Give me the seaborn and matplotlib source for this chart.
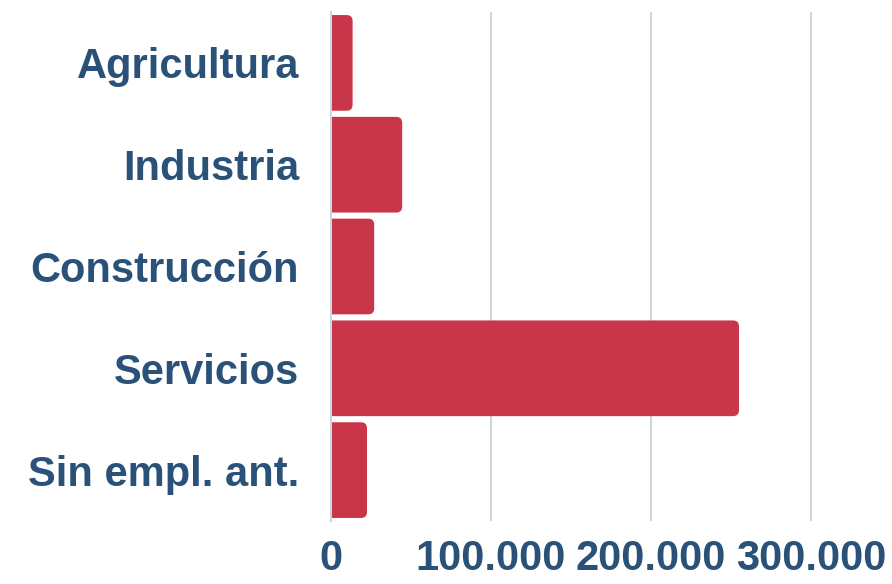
import matplotlib
matplotlib.use("Agg")
import matplotlib.pyplot as plt
import seaborn as sns
import pandas as pd
from matplotlib.patches import FancyBboxPatch
from matplotlib.ticker import FuncFormatter

categories = ["Agricultura", "Industria", "Construcción", "Servicios", "Sin empl. ant."]
values = [13500, 44500, 27000, 255000, 22500]
xticks = [0, 100000, 200000, 300000]

BAR = "#C9364A"
TXT = "#2A5279"
GRID = "#CCD6E0"

sns.set_theme(style="white")
plt.rcParams["font.family"] = ["Liberation Sans", "DejaVu Sans"]

df = pd.DataFrame({"cat": categories, "val": values})
fig = plt.figure(figsize=(8.92, 5.84), dpi=100)
ax = fig.add_axes([331/892, 63/584, 560/892, 509/584])
sns.barplot(data=df, y="cat", x="val", color=BAR, width=0.94, saturation=1, ax=ax, zorder=3)

xmax = 350000
ax.set_xlim(0, xmax)
ax.set_ylim(4.5, -0.5)

# rounded corners on bar ends
rx = 6 * xmax / 560
ry = 6 * 5 / 509
for p in list(ax.patches):
    x0, y0, w, h = p.get_x(), p.get_y(), p.get_width(), p.get_height()
    p.remove()
    fb = FancyBboxPatch((x0 - 2 * rx, y0), w + 2 * rx, h,
                        boxstyle=f"round,pad=0,rounding_size={rx}",
                        mutation_aspect=ry / rx, facecolor=BAR, edgecolor="none", zorder=3)
    ax.add_patch(fb)

ax.set_xticks(xticks)
ax.xaxis.set_major_formatter(FuncFormatter(lambda v, _: f"{int(v):,}".replace(",", ".")))
ax.grid(axis="x", color=GRID, linewidth=1.5, zorder=0)
ax.grid(axis="y", visible=False)
for s in ["top", "right", "bottom"]:
    ax.spines[s].set_visible(False)
ax.spines["left"].set_color(GRID)
ax.spines["left"].set_linewidth(1.5)
ax.spines["left"].set_zorder(4)
ax.tick_params(axis="both", length=0, labelsize=30, labelcolor=TXT)
ax.tick_params(axis="y", pad=23)
ax.tick_params(axis="x", pad=13)
for t in ax.get_xticklabels() + ax.get_yticklabels():
    t.set_fontweight("bold")
ax.set_xlabel("")
ax.set_ylabel("")
fig.savefig("out.png", dpi=100)
